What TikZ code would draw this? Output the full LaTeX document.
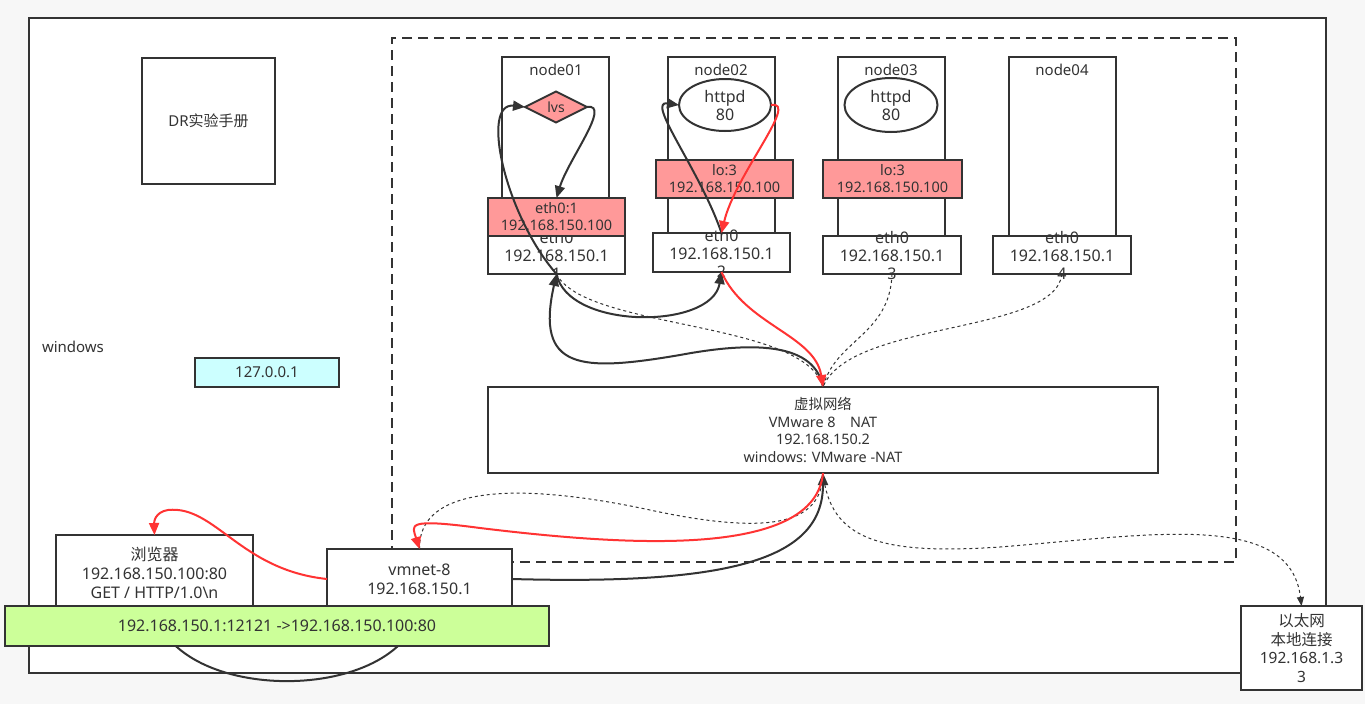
\documentclass[tikz,border=0pt]{standalone}
\usepackage{fontspec}
\setmainfont{Noto Sans}
\newfontfamily\cjk{Noto Sans CJK SC}
\usetikzlibrary{arrows.meta,shapes.geometric}
\definecolor{ln}{HTML}{333333}
\definecolor{bgc}{HTML}{F7F7F7}
\definecolor{pinkf}{HTML}{FF9999}
\definecolor{cyanf}{HTML}{CCFFFF}
\definecolor{greenf}{HTML}{CCFF99}
\definecolor{redc}{HTML}{FF3333}
\newcommand\fsz[2]{\fontsize{#1}{#2}\selectfont}
\tikzset{
  bx/.style={rectangle, draw=ln, line width=2pt, fill=white, inner sep=0pt, outer sep=0pt, anchor=north west, text=ln, align=center},
  pinkbx/.style={bx, fill=pinkf},
  lbl/.style={inner sep=0pt, outer sep=0pt, text=ln, align=center, font=\fsz{15}{18}},
  blk/.style={draw=ln, line width=2pt, -{Triangle[length=12pt,width=10pt]}},
  redl/.style={draw=redc, line width=2pt, -{Triangle[length=12pt,width=10pt]}},
  plain/.style={draw=ln, line width=2pt},
  dsh/.style={draw=ln, line width=1pt, dash pattern=on 3pt off 3pt},
  dsha/.style={dsh, -{Triangle[length=9pt,width=7pt]}},
}
\begin{document}
\begin{tikzpicture}[x=1pt,y=-1pt]
\useasboundingbox (0,0) rectangle (1365,704);
\fill[bgc] (0,0) rectangle (1365,704);

% windows host
\node[bx, minimum width=1297pt, minimum height=655pt] (win) at (29,18) {};
\node[lbl, anchor=west, font=\fsz{15}{18}] (winl) at (42,347) {windows};
\node[bx, minimum width=133pt, minimum height=126pt, font=\fsz{15}{18}] (dr) at (142,58) {DR{\cjk 实验手册}};
\node[bx, fill=cyanf, minimum width=144pt, minimum height=29pt, font=\fsz{15}{18}] (lo) at (195,358) {127.0.0.1};

% VM area
\node[bx, fill=none, dash pattern=on 10pt off 6pt, minimum width=844pt, minimum height=524pt] (vmarea) at (392,38) {};

% node01
\node[bx, minimum width=107pt, minimum height=145pt] (n1) at (502,57) {};
\node[lbl] (n1t) at (556,70) {node01};
\node[diamond, draw=ln, line width=2pt, fill=pinkf, minimum width=62pt, minimum height=31pt, inner sep=0pt, outer sep=0pt] (lvs) at (556,107) {};
\node[lbl, font=\fsz{14}{17}] (lvst) at (556,107) {lvs};
\node[bx, minimum width=137pt, minimum height=38pt] (e1) at (488,236) {};
\node[lbl, font=\fsz{16}{18}] (e1t) at (556.5,255) {eth0\\192.168.150.1\\1};
\node[pinkbx, minimum width=137pt, minimum height=38pt] (l1) at (488,198) {};
\node[lbl, font=\fsz{14.5}{17}] (l1t) at (556.5,217) {eth0:1\\192.168.150.100};

% node02
\node[bx, minimum width=107pt, minimum height=176pt] (n2) at (668,57) {};
\node[lbl] (n2t) at (721,70) {node02};
\node[ellipse, draw=ln, line width=2pt, fill=white, minimum width=92pt, minimum height=52pt, inner sep=0pt, outer sep=0pt] (h2) at (725,105) {};
\node[lbl, font=\fsz{16}{18}] (h2t) at (725,105) {httpd\\80};
\node[pinkbx, minimum width=137pt, minimum height=38pt] (lo2) at (656,160) {};
\node[lbl, font=\fsz{14.5}{17}] (lo2t) at (724.5,179) {lo:3\\192.168.150.100};
\node[bx, minimum width=137pt, minimum height=39pt] (e2) at (653,233) {};
\node[lbl, font=\fsz{16}{18}] (e2t) at (721.5,253) {eth0\\192.168.150.1\\2};

% node03
\node[bx, minimum width=107pt, minimum height=179pt] (n3) at (838,57) {};
\node[lbl] (n3t) at (891,70) {node03};
\node[ellipse, draw=ln, line width=2pt, fill=white, minimum width=93pt, minimum height=54pt, inner sep=0pt, outer sep=0pt] (h3) at (891,105) {};
\node[lbl, font=\fsz{16}{18}] (h3t) at (891,105) {httpd\\80};
\node[pinkbx, minimum width=139pt, minimum height=38pt] (lo3) at (823,160) {};
\node[lbl, font=\fsz{14.5}{17}] (lo3t) at (892.5,179) {lo:3\\192.168.150.100};
\node[bx, minimum width=138pt, minimum height=38pt] (e3) at (823,236) {};
\node[lbl, font=\fsz{16}{18}] (e3t) at (892,255) {eth0\\192.168.150.1\\3};

% node04
\node[bx, minimum width=107pt, minimum height=179pt] (n4) at (1009,57) {};
\node[lbl] (n4t) at (1062,70) {node04};
\node[bx, minimum width=138pt, minimum height=38pt] (e4) at (993,236) {};
\node[lbl, font=\fsz{16}{18}] (e4t) at (1062,255) {eth0\\192.168.150.1\\4};

% virtual network
\node[bx, minimum width=670pt, minimum height=86pt, font=\fsz{14.4}{17.5}] (vn) at (488,387) {{\cjk 虚拟网络}\\VMware 8\quad NAT\\192.168.150.2\\windows: VMware -NAT};

% browser, vmnet, ethernet
\node[bx, minimum width=197pt, minimum height=75pt, font=\fsz{16}{19}] (br) at (56,535) {{\cjk 浏览器}\\192.168.150.100:80\\GET / HTTP/1.0\textbackslash n};
\node[bx, minimum width=185pt, minimum height=60pt, font=\fsz{16}{19}] (vm) at (327,549) {vmnet-8\\192.168.150.1};
\draw[plain] (br.south) .. controls (175,705) and (400,705) .. (vm.south);
\node[bx, fill=greenf, minimum width=544pt, minimum height=40pt, font=\fsz{16}{19}] (gr) at (5,606) {192.168.150.1:12121 ->192.168.150.100:80};
\node[bx, minimum width=121pt, minimum height=84pt, font=\fsz{15.5}{18.7}] (et) at (1241,606) {{\cjk 以太网}\\{\cjk 本地连接}\\192.168.1.3\\3};

% connectors inside VM area
\draw[dsh] (e1.south) .. controls (585,330) and (805,320) .. (vn.north);
\draw[dsh] (e3.south) .. controls (890,335) and (835,340) .. (vn.north);
\draw[dsh] (e4.south) .. controls (1055,335) and (850,320) .. (vn.north);
\draw[blk] (vn.north) .. controls (815,345) and (760,340) .. (680,355) .. controls (580,372) and (535,370) .. (e1.south);
\draw[blk] (e1.south) .. controls (568,330) and (712,330) .. (e2.south);
\draw[blk] (e1.south) .. controls (505,215) and (480,102) .. (lvs.west);
\draw[blk] (lvs.east) .. controls (612,103) and (568,160) .. (l1.north);
\draw[blk] (e2.north) .. controls (700,170) and (645,100) .. (h2.west);
\draw[redl] (h2.east) .. controls (800,100) and (735,175) .. (e2.north);
\draw[redl] (e2.south) .. controls (745,325) and (815,335) .. (vn.north);

% connectors below
\draw[dsh] (vm.north) .. controls (418,485) and (520,482) .. (650,510) .. controls (780,538) and (822,520) .. (vn.south);
\draw[dsha] (vn.south) .. controls (830,540) and (880,555) .. (1000,547) .. controls (1150,535) and (1290,510) .. (et.north);
\draw[blk] (vm.east) .. controls (730,585) and (823,560) .. (vn.south);
\draw[redl] (vn.south) .. controls (815,560) and (620,545) .. (480,528) .. controls (405,518) and (412,525) .. (vm.north);
\draw[redl] (vm.west) .. controls (240,570) and (215,505) .. (168,510) .. controls (155,512) and (154,522) .. (br.north);
\end{tikzpicture}
\end{document}
